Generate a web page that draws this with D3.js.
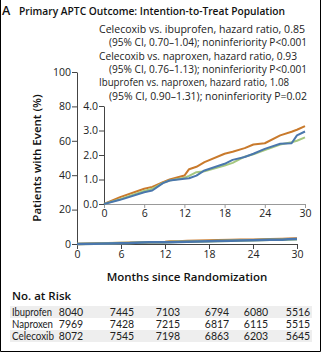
<!DOCTYPE html>
<html>
<head>
<meta charset="utf-8">
<script src="https://cdn.jsdelivr.net/npm/d3@7"></script>
<style>
  body { margin: 0; background: #fff; }
  svg { display: block; font-family: "Open Sans", "Noto Sans", sans-serif; }
</style>
</head>
<body>
<div id="chart"></div>
<script>
// values (cumulative % of patients with event)
const months      = [0, 2.4, 6, 7.2, 8.8, 9.8, 12, 12.7, 13.8, 15, 18, 19.2, 21, 22.3, 24, 26.3, 28, 28.8, 30];
const ibuprofen   = [0, 0.28, 0.62, 0.70, 0.89, 1.00, 1.16, 1.42, 1.52, 1.71, 2.05, 2.13, 2.28, 2.43, 2.48, 2.80, 2.95, 3.03, 3.18];
const naproxen    = [0, 0.17, 0.48, 0.55, 0.85, 0.96, 1.03, 1.05, 1.16, 1.37, 1.64, 1.80, 1.92, 2.05, 2.25, 2.46, 2.48, 2.80, 2.96];
const celecoxib   = [0, 0.20, 0.53, 0.62, 0.86, 0.96, 1.07, 1.15, 1.30, 1.34, 1.57, 1.68, 1.93, 2.03, 2.20, 2.43, 2.52, 2.58, 2.72];

const xTicks      = [0, 6, 12, 18, 24, 30];
const mainYTicks  = [0, 20, 40, 60, 80, 100];
const insetYTicks = [0, 1, 2, 3, 4];

const riskNames   = ["Ibuprofen", "Naproxen", "Celecoxib"];
const riskIbu     = [8040, 7445, 7103, 6794, 6080, 5516];
const riskNap     = [7969, 7428, 7215, 6817, 6115, 5515];
const riskCel     = [8072, 7545, 7198, 6863, 6203, 5645];

const notes = [
  "Celecoxib vs. ibuprofen, hazard ratio, 0.85",
  "(95% CI, 0.70\u20131.04); noninferiority P<0.001",
  "Celecoxib vs. naproxen, hazard ratio, 0.93",
  "(95% CI, 0.76\u20131.13); noninferiority P<0.001",
  "Ibuprofen vs. naproxen, hazard ratio, 1.08",
  "(95% CI, 0.90\u20131.31); noninferiority P=0.02"
];

const series = [
  { name: "Ibuprofen", values: ibuprofen, color: "#c97a2c" },
  { name: "Celecoxib", values: celecoxib, color: "#a5c77f" },
  { name: "Naproxen",  values: naproxen,  color: "#4a77ad" }
];

const width = 321, height = 352;
const axisColor = "#444", textColor = "#222";

const svg = d3.select("#chart").append("svg")
  .attr("width", width)
  .attr("height", height);

// outer frame (left, right, bottom)
svg.append("path")
  .attr("d", `M0.5,0 V${height - 0.5} H${width - 0.5} V0`)
  .attr("fill", "none")
  .attr("stroke", "#000")
  .attr("stroke-width", 1);

// panel letter + title
svg.append("text").attr("x", 2).attr("y", 15)
  .attr("font-size", 12.5).attr("font-weight", 600).attr("fill", "#111").text("A");
svg.append("text").attr("x", 19).attr("y", 15)
  .attr("font-size", 11.5).attr("font-weight", 600).attr("fill", "#111")
  .attr("textLength", 266).attr("lengthAdjust", "spacingAndGlyphs")
  .text("Primary APTC Outcome: Intention-to-Treat Population");

// hazard ratio notes
svg.append("g").selectAll("text")
  .data(notes)
  .join("text")
    .attr("x", (d, i) => i % 2 ? 109 : 99)
    .attr("y", (d, i) => 33 + i * 13.3)
    .attr("font-size", 10.5)
    .attr("fill", textColor)
    .attr("textLength", (d, i) => i % 2 ? 198 : [206, 0, 198, 0, 190][i])
    .attr("lengthAdjust", "spacingAndGlyphs")
    .text(d => d);

// main scales
const x = d3.scaleLinear().domain([0, 30]).range([77, 297]);
const y = d3.scaleLinear().domain([0, 100]).range([244, 72]);

// inset scales
const xi = d3.scaleLinear().domain([0, 30]).range([104, 305]);
const yi = d3.scaleLinear().domain([0, 4]).range([204, 106]);

function styleAxis(g, color) {
  g.select(".domain").attr("stroke", color).attr("stroke-width", 1);
  g.selectAll(".tick line").attr("stroke", color);
  g.selectAll(".tick text")
    .attr("fill", textColor)
    .attr("font-size", 10.5)
    .attr("font-family", "\"Open Sans\", \"Noto Sans\", sans-serif");
}

// main axes
svg.append("g")
  .attr("transform", `translate(0,${y(0)})`)
  .call(d3.axisBottom(x).tickValues(xTicks).tickSize(5).tickSizeOuter(0).tickPadding(2))
  .call(g => styleAxis(g, axisColor));

svg.append("g")
  .attr("transform", `translate(${x(0)},0)`)
  .call(d3.axisLeft(y).tickValues(mainYTicks).tickSize(5).tickSizeOuter(0).tickPadding(1))
  .call(g => styleAxis(g, axisColor));

// inset axes
svg.append("g")
  .attr("transform", `translate(0,${yi(0)})`)
  .call(d3.axisBottom(xi).tickValues(xTicks).tickSize(4).tickSizeOuter(0).tickPadding(2))
  .call(g => styleAxis(g, "#999"));

svg.append("g")
  .attr("transform", `translate(${xi(0)},0)`)
  .call(d3.axisLeft(yi).tickValues(insetYTicks).tickSize(5).tickSizeOuter(0).tickPadding(1)
    .tickFormat(d3.format(".1f")))
  .call(g => styleAxis(g, axisColor));

// axis titles
svg.append("text")
  .attr("transform", `translate(41,${(y(0) + y(100)) / 2}) rotate(-90)`)
  .attr("text-anchor", "middle")
  .attr("font-size", 11.5).attr("font-weight", 600).attr("fill", "#111")
  .text("Patients with Event (%)");

svg.append("text")
  .attr("x", 187).attr("y", 281)
  .attr("text-anchor", "middle")
  .attr("font-size", 11.5).attr("font-weight", 600).attr("fill", "#111")
  .text("Months since Randomization");

// curves
const mainLine = d3.line().x((d, i) => x(months[i])).y(d => y(d));
const insetLine = d3.line().x((d, i) => xi(months[i])).y(d => yi(d));

svg.append("g").selectAll("path")
  .data(series)
  .join("path")
    .attr("d", d => mainLine(d.values))
    .attr("fill", "none")
    .attr("stroke", d => d.color)
    .attr("stroke-width", 2.5);

svg.append("g").selectAll("path")
  .data(series)
  .join("path")
    .attr("d", d => insetLine(d.values))
    .attr("fill", "none")
    .attr("stroke", d => d.color)
    .attr("stroke-width", 2)
    .attr("stroke-linejoin", "round");

// number at risk table
svg.append("text").attr("x", 12).attr("y", 300)
  .attr("font-size", 11.5).attr("font-weight", 600).attr("fill", "#111")
  .text("No. at Risk");

const riskRows = [riskIbu, riskNap, riskCel];
const nameWidth = [40, 41, 42];
const colX = [71, 122, 168, 217, 256, 298];
const rowY = d3.scaleBand().domain(riskNames).range([306, 342]);

const rows = svg.append("g").selectAll("g")
  .data(riskNames)
  .join("g")
    .attr("transform", d => `translate(0,${rowY(d)})`)
    .style("font-family", "Lato, \"Open Sans\", sans-serif");

rows.append("rect")
  .attr("x", 10).attr("width", 302)
  .attr("height", rowY.bandwidth())
  .attr("fill", (d, i) => i % 2 ? "#fff" : "#eeeeee");

rows.append("text")
  .attr("x", 12).attr("y", rowY.bandwidth() / 2 + 3.6)
  .attr("font-size", 10.5).attr("fill", textColor)
  .attr("textLength", (d, i) => nameWidth[i])
  .attr("lengthAdjust", "spacingAndGlyphs")
  .text(d => d);

rows.each(function (d, i) {
  d3.select(this).selectAll("text.n")
    .data(riskRows[i])
    .join("text")
      .attr("class", "n")
      .attr("x", (v, j) => colX[j])
      .attr("y", rowY.bandwidth() / 2 + 3.6)
      .attr("text-anchor", "middle")
      .attr("font-size", 10.5).attr("fill", textColor)
      .text(v => v);
});
</script>
</body>
</html>
